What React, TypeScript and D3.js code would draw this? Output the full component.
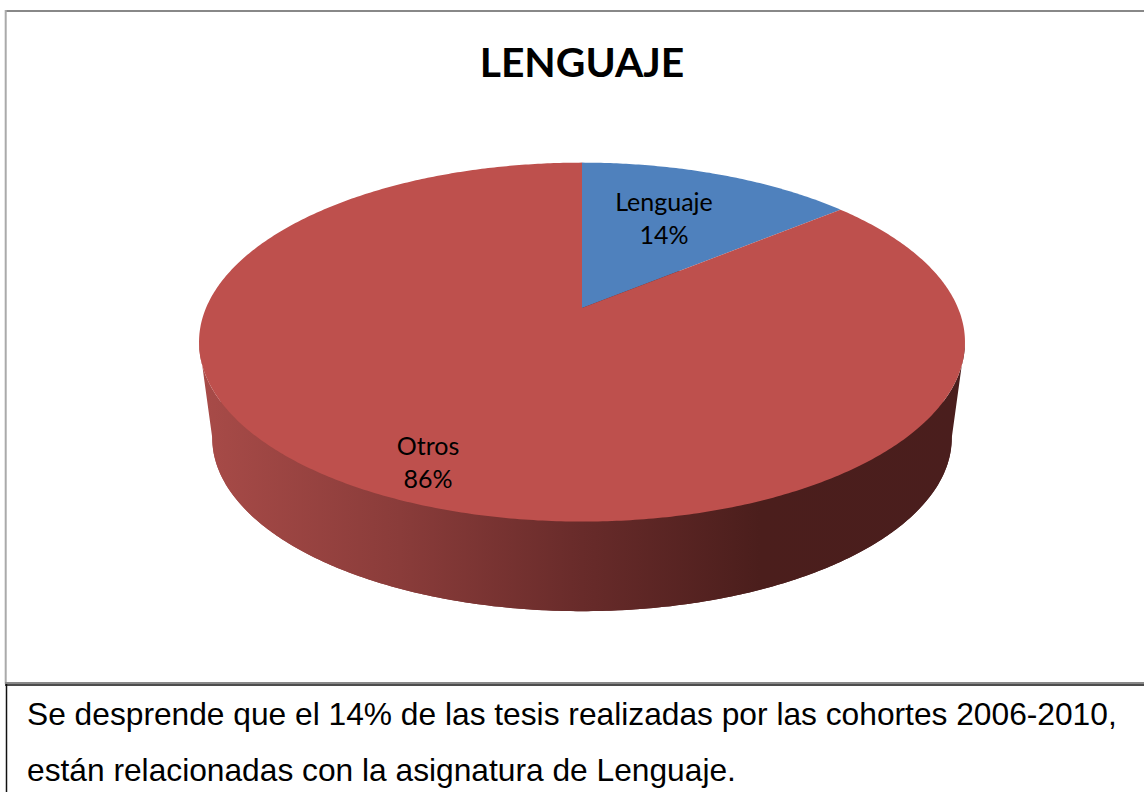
import React from 'react';
import * as d3 from 'd3';

const categories = ['Lenguaje', 'Otros'];
const values = [14, 86];
const sliceColors = ['#4f81bd', '#be504d'];
const captionLines = [
  'Se desprende que el 14% de las tesis realizadas por las cohortes 2006-2010,',
  'están relacionadas con la asignatura de Lenguaje.',
];

const width = 1144;
const height = 792;
const cx = 582;
const tilt = 0.19; // perspective of the pie disc

// project a pie angle (0 = up, clockwise) on to the screen
function project(angle: number, apexY: number, rx: number, ry: number): [number, number] {
  const w = 1 + tilt * Math.cos(angle);
  return [cx + (rx * Math.sin(angle)) / w, apexY - (ry * Math.cos(angle)) / w];
}

const topFace = { apexY: 308, rx: 376, ry: 173 };
const bottomFace = { apexY: 405, rx: 363, ry: 167 };

const line = d3.line();

function arcPoints(a0: number, a1: number, face: typeof topFace) {
  const n = Math.max(2, Math.ceil(Math.abs(a1 - a0) / 0.01));
  return d3.range(n + 1).map(i => project(a0 + ((a1 - a0) * i) / n, face.apexY, face.rx, face.ry));
}

export default function App() {
  const arcs = d3.pie<number>().sort(null)(values);

  // wall is visible between the two silhouette points of the disc
  const side = Math.acos(-tilt);
  const front0 = side;
  const front1 = 2 * Math.PI - side;
  const wall = [...arcPoints(front0, front1, topFace), ...arcPoints(front1, front0, bottomFace)];

  const shade = d3
    .scaleLinear<string>()
    .domain([200, 400, 582, 760, 960])
    .range(['#a84b48', '#8a3c3a', '#682b2a', '#4b1e1c', '#4a1e1d']);
  const stops = shade.domain();

  const labels = [
    { x: 664, y: 211 },
    { x: 428, y: 455 },
  ];

  return (
    <svg width={width} height={height} style={{ position: 'absolute', left: 0, top: 0, display: 'block' }}>
      <defs>
        <linearGradient id="wallShade" gradientUnits="userSpaceOnUse" x1={200} x2={960} y1={0} y2={0}>
          {stops.map(s => (
            <stop key={s} offset={(s - 200) / 760} stopColor={shade(s)} />
          ))}
        </linearGradient>
      </defs>
      <rect width={width} height={height} fill="#fff" />

      {/* chart frame */}
      <line x1={5} x2={1144} y1={11} y2={11} stroke="#888" strokeWidth={2.2} />
      <line x1={5.7} x2={5.7} y1={10} y2={684} stroke="#aaa" strokeWidth={2} />
      <line x1={5} x2={1144} y1={683} y2={683} stroke="#888" strokeWidth={2} />
      {/* caption table */}
      <line x1={5} x2={1144} y1={685} y2={685} stroke="#111" strokeWidth={1.5} />
      <line x1={6.5} x2={6.5} y1={684} y2={792} stroke="#111" strokeWidth={1.5} />

      <text x={cx} y={77} textAnchor="middle" fontFamily="Lato" fontWeight={700} fontSize={40.8} fill="#000">
        LENGUAJE
      </text>

      <path d={line(wall) + 'Z'} fill="url(#wallShade)" />
      <path d={line(arcPoints(0, 2 * Math.PI, bottomFace)) + 'Z'} fill="url(#wallShade)" />

      {arcs.map((a, i) => (
        <path
          key={categories[i]}
          d={line([[cx, topFace.apexY], ...arcPoints(a.startAngle, a.endAngle, topFace)]) + 'Z'}
          fill={sliceColors[i]}
        />
      ))}

      {categories.map((c, i) => (
        <text key={c} textAnchor="middle" fontFamily="Lato" fontSize={25} fill="#000">
          <tspan x={labels[i].x} y={labels[i].y}>{c}</tspan>
          <tspan x={labels[i].x} dy={33}>{`${values[i]}%`}</tspan>
        </text>
      ))}

      {captionLines.map((t, i) => (
        <text key={i} x={27} y={725 + i * 56} fontFamily="Liberation Sans" fontSize={31.73} fill="#000">
          {t}
        </text>
      ))}
    </svg>
  );
}
